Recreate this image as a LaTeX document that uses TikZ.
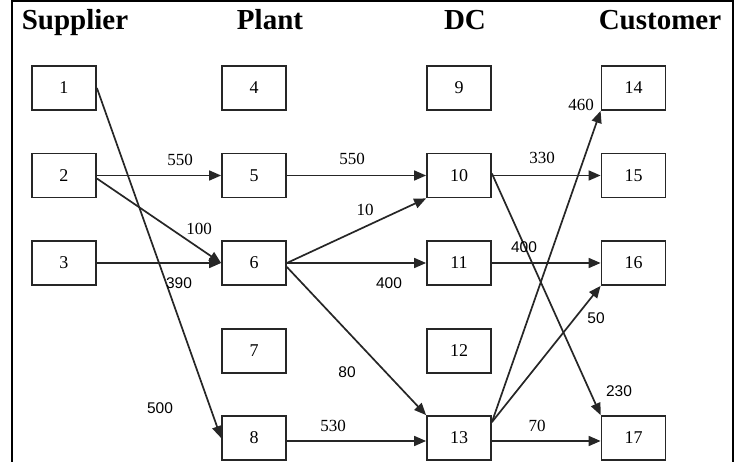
\documentclass[tikz,border=0pt]{standalone}
\usepackage{fontspec}
\setmainfont{Liberation Serif}
\newfontfamily\labsans{Liberation Sans}
\usetikzlibrary{arrows.meta}
\begin{document}
\begin{tikzpicture}[x=1pt,y=-1pt,
 box/.style={draw=black!85, line width=1.8pt, minimum width=64pt, minimum height=44pt, inner sep=0pt, font=\fontsize{18}{18}\selectfont},
 hdr/.style={font=\bfseries\fontsize{29}{29}\selectfont, anchor=base, inner sep=0pt},
 flow/.style={draw=black!85, line width=1.7pt, -{Triangle[length=12pt,width=10pt]}},
 lab/.style={font=\fontsize{17}{17}\selectfont, inner sep=0pt},
 labs/.style={font=\labsans\fontsize{15.5}{15.5}\selectfont, inner sep=0pt}]
\useasboundingbox (0,0) rectangle (740,462);
\clip (0,0) rectangle (740,462);
\fill[white] (0,0) rectangle (740,462);
\draw[line width=2.4pt] (12,480) -- (12,1.2) -- (733,1.2) -- (733,480);
% headers
\node[hdr] (hs) at (75,30) {Supplier};
\node[hdr] (hp) at (270,30) {Plant};
\node[hdr] (hd) at (465,30) {DC};
\node[hdr] (hc) at (660,30) {Customer};
% nodes
\node[box] (n1) at (64,88) {1};
\node[box] (n2) at (64,175.5) {2};
\node[box] (n3) at (64,263) {3};
\node[box] (n4) at (254,88) {4};
\node[box] (n5) at (254,175.5) {5};
\node[box] (n6) at (254,263) {6};
\node[box] (n7) at (254,351) {7};
\node[box] (n8) at (254,438) {8};
\node[box] (n9) at (459,88) {9};
\node[box] (n10) at (459,175.5) {10};
\node[box] (n11) at (459,263) {11};
\node[box] (n12) at (459,351) {12};
\node[box] (n13) at (459,438) {13};
\node[box] (n14) at (633.5,88) {14};
\node[box] (n15) at (633.5,175.5) {15};
\node[box] (n16) at (633.5,263) {16};
\node[box] (n17) at (633.5,438) {17};
% flows
\draw[flow] (n1.east) -- (n8.west);
\draw[flow] (n2.east) -- (n5.west);
\draw[flow] ([yshift=-3pt]n2.east) -- (n6.west);
\draw[flow] (n3.east) -- (n6.west);
\draw[flow] (n5.east) -- (n10.west);
\draw[flow] (n6.east) -- (n10.south west);
\draw[flow] (n6.east) -- (n11.west);
\draw[flow] ([yshift=-4pt]n6.east) -- (n13.north west);
\draw[flow] ([yshift=-3pt]n8.east) -- ([yshift=-3pt]n13.west);
\draw[flow] (n10.east) -- (n15.west);
\draw[flow] ([yshift=2pt]n10.east) -- (n17.north west);
\draw[flow] (n11.east) -- (n16.west);
\draw[flow] ([yshift=-7pt]n13.north east) -- (n14.south west);
\draw[flow] ([yshift=-7pt]n13.north east) -- (n16.south west);
\draw[flow] ([yshift=-3pt]n13.east) -- ([yshift=-3pt]n17.west);
% labels
\node[lab] (l1) at (180,160) {550};
\node[lab] (l2) at (352,159) {550};
\node[lab] (l3) at (199,229) {100};
\node[lab] (l4) at (365,210) {10};
\node[labs] (l5) at (179,283) {390};
\node[labs] (l6) at (389,283) {400};
\node[lab] (l7) at (542,158) {330};
\node[lab] (l8) at (581,105) {460};
\node[labs] (l9) at (524,247) {400};
\node[labs] (l10) at (596,318) {50};
\node[labs] (l11) at (619,391) {230};
\node[labs] (l12) at (347,372) {80};
\node[labs] (l13) at (160,408) {500};
\node[lab] (l14) at (333,426) {530};
\node[lab] (l15) at (537,426) {70};
\end{tikzpicture}
\end{document}
